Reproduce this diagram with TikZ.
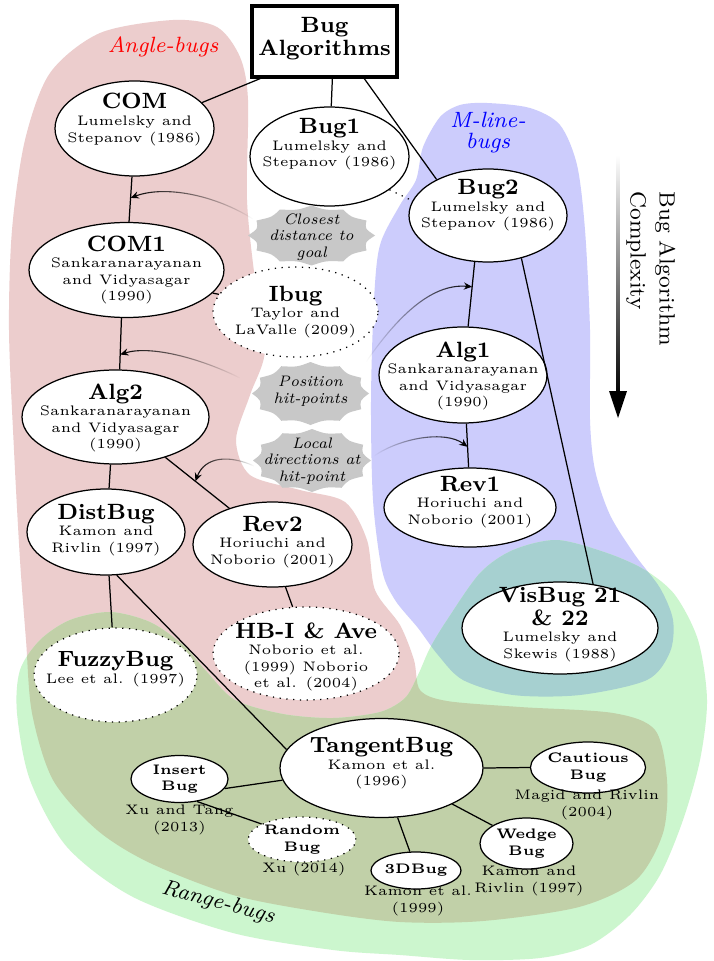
\documentclass[tikz,border=0pt]{standalone}
\usetikzlibrary{shapes.geometric,arrows.meta,calc,fadings}
\definecolor{pinkc}{RGB}{236,205,205}
\definecolor{bluec}{RGB}{204,204,252}
\definecolor{greenc}{RGB}{204,246,206}
\definecolor{olivec}{RGB}{193,208,168}
\definecolor{tealc}{RGB}{166,208,208}
\definecolor{sbc}{RGB}{200,200,200}
\newcommand{\bugttl}{\fontsize{8}{7.5}\selectfont\bfseries}
\tikzset{
 bugell/.style={ellipse, draw, fill=white, line width=0.45pt, inner sep=0pt},
 dotell/.style={bugell, dotted},
 bugtext/.style={align=center, font=\tiny, inner sep=0pt},
 smallell/.style={ellipse, draw, fill=white, line width=0.45pt, inner sep=0pt, align=center, font=\tiny\bfseries},
 smalldot/.style={smallell, dotted},
 conn/.style={line width=0.45pt},
 fadearrow/.style={line width=0.4pt, -{Stealth[length=3pt,width=2.6pt]}},
 sbtext/.style={align=center, font=\fontsize{5.5}{6}\selectfont\itshape, inner sep=0pt},
 reglabel/.style={font=\footnotesize\itshape, align=center, inner sep=0pt},
}
\newcommand{\bugnode}[8]{%
 \node[#1, minimum width=#5*0.362pt, minimum height=#6*0.362pt] (#2) at (#3,#4) {};
 \node[bugtext] (#2-t) at (#3,#7) {#8};}
\newcommand{\starb}[4]{%
 \fill[sbc] ({#1+#3},#2) \foreach \k in {1,...,12} { .. controls ({#1+0.87*#3*cos((\k-0.5)*30)},{#2+0.87*#4*sin((\k-0.5)*30)}) .. ({#1+#3*cos(\k*30)},{#2+#4*sin(\k*30)}) } -- cycle;}
\begin{document}
\begin{tikzpicture}[x=0.362pt,y=-0.362pt]
\useasboundingbox (0,0) rectangle (713,961);
\fill[white] (0,0) rectangle (713,961);
% regions
\fill[pinkc] plot[smooth cycle] coordinates {(173,20) (217,27) (240,57) (248,100) (247,200) (255,280) (265,350) (250,395) (236,440) (250,475) (300,490) (345,502) (367,540) (375,590) (400,625) (414,660) (420,690) (447,701) (520,707) (613,713) (655,730) (667,780) (663,833) (636,880) (579,907) (483,921) (400,922) (320,912) (233,895) (150,863) (97,830) (53,780) (32,713) (26,640) (20,560) (14,450) (9,330) (12,230) (25,140) (50,73) (100,33)};
\fill[bluec] plot[smooth cycle] coordinates {(487,103) (530,108) (560,125) (577,165) (585,230) (590,330) (590,420) (595,470) (610,515) (635,555) (660,588) (673,620) (670,652) (647,680) (580,695) (513,695) (463,680) (438,655) (418,628) (395,600) (382,570) (373,500) (371,400) (374,300) (380,245) (400,205) (416,180) (423,147) (440,117) (460,105)};
\fill[greenc] plot[smooth cycle] coordinates {(447,620) (480,573) (513,550) (557,540) (607,553) (645,570) (675,595) (698,640) (707,700) (700,760) (683,820) (660,875) (630,915) (590,945) (540,958) (470,960) (400,955) (333,950) (233,933) (133,897) (67,847) (30,780) (17,713) (20,670) (40,640) (70,620) (110,612) (150,622) (183,645) (207,672) (235,700) (283,714) (333,718) (380,712) (405,698) (418,675) (430,648)};
\begin{scope}
\clip plot[smooth cycle] coordinates {(447,620) (480,573) (513,550) (557,540) (607,553) (645,570) (675,595) (698,640) (707,700) (700,760) (683,820) (660,875) (630,915) (590,945) (540,958) (470,960) (400,955) (333,950) (233,933) (133,897) (67,847) (30,780) (17,713) (20,670) (40,640) (70,620) (110,612) (150,622) (183,645) (207,672) (235,700) (283,714) (333,718) (380,712) (405,698) (418,675) (430,648)};
\fill[olivec] plot[smooth cycle] coordinates {(173,20) (217,27) (240,57) (248,100) (247,200) (255,280) (265,350) (250,395) (236,440) (250,475) (300,490) (345,502) (367,540) (375,590) (400,625) (414,660) (420,690) (447,701) (520,707) (613,713) (655,730) (667,780) (663,833) (636,880) (579,907) (483,921) (400,922) (320,912) (233,895) (150,863) (97,830) (53,780) (32,713) (26,640) (20,560) (14,450) (9,330) (12,230) (25,140) (50,73) (100,33)};
\fill[tealc] plot[smooth cycle] coordinates {(487,103) (530,108) (560,125) (577,165) (585,230) (590,330) (590,420) (595,470) (610,515) (635,555) (660,588) (673,620) (670,652) (647,680) (580,695) (513,695) (463,680) (438,655) (418,628) (395,600) (382,570) (373,500) (371,400) (374,300) (380,245) (400,205) (416,180) (423,147) (440,117) (460,105)};
\end{scope}
% region labels
\node[reglabel, text=red] (anglelbl) at (163,47) {Angle-bugs};
\node[reglabel, text=blue, font=\fontsize{8}{7.6}\selectfont\itshape] (mlinelbl) at (488,133) {M-line-\\bugs};
\node[reglabel, rotate=-15] (rangelbl) at (218,903) {Range-bugs};
% root
\node[draw, line width=1.1pt, fill=white, minimum width=145*0.362pt, minimum height=71*0.362pt, inner sep=0pt] (root) at (324.5,41.5) {};
\node[align=center, font=\fontsize{8}{7.2}\selectfont\bfseries, inner sep=0pt] (root-t) at (324.5,39) {Bug\\Algorithms};
% nodes
\bugnode{bugell}{com}{134.5}{128.5}{159}{95}{119.5}{{\bugttl COM}\\Lumelsky and\\Stepanov (1986)}
\bugnode{bugell}{bug1}{329.5}{156.5}{159}{99}{144.5}{{\bugttl Bug1}\\Lumelsky and\\Stepanov (1986)}
\bugnode{bugell}{bug2}{488}{215.5}{158}{93}{205.5}{{\bugttl Bug2}\\Lumelsky and\\Stepanov (1986)}
\bugnode{bugell}{com1}{126.5}{270}{195}{95}{270}{{\bugttl COM1}\\Sankaranarayanan\\and Vidyasagar\\(1990)}
\bugnode{dotell}{ibug}{295.5}{312}{165}{90}{312}{{\bugttl Ibug}\\Taylor and\\LaValle (2009)}
\bugnode{bugell}{alg1}{463}{375}{168}{96}{376}{{\bugttl Alg1}\\Sankaranarayanan\\and Vidyasagar\\(1990)}
\bugnode{bugell}{alg2}{115.5}{417}{187}{94}{418}{{\bugttl Alg2}\\Sankaranarayanan\\and Vidyasagar\\(1990)}
\bugnode{bugell}{distbug}{106}{532}{158}{86}{530}{{\bugttl DistBug}\\Kamon and\\Rivlin (1997)}
\bugnode{bugell}{rev2}{272.5}{544.5}{159}{85}{542}{{\bugttl Rev2}\\Horiuchi and\\Noborio (2001)}
\bugnode{bugell}{rev1}{470}{507.5}{172}{79}{502}{{\bugttl Rev1}\\Horiuchi and\\Noborio (2001)}
\bugnode{dotell}{fuzzy}{115.5}{675}{163}{94}{669}{{\bugttl FuzzyBug}\\Lee et al. (1997)}
\bugnode{dotell}{hbi}{306}{653.5}{186}{93}{657}{{\bugttl HB-I \& Ave}\\Noborio et al.\\(1999) Noborio\\et al. (2004)}
\bugnode{bugell}{visbug}{560}{628}{196}{92}{624.5}{{\bugttl VisBug 21}\\{\bugttl \& 22}\\Lumelsky and\\Skewis (1988)}
\bugnode{bugell}{tangent}{381.5}{768}{203}{99}{763.5}{{\bugttl TangentBug}\\Kamon et al.\\(1996)}
% small nodes
\node[smallell, minimum width=97*0.362pt, minimum height=47*0.362pt] (insert) at (179.5,779) {Insert\\Bug};
\node[smalldot, minimum width=96*0.362pt, minimum height=45*0.362pt] (random) at (302,839.5) {Random\\Bug};
\node[smallell, minimum width=90*0.362pt, minimum height=37*0.362pt] (threed) at (416,870.5) {3DBug};
\node[smallell, minimum width=106*0.362pt, minimum height=51*0.362pt] (cautious) at (588,767.5) {Cautious\\Bug};
\node[smallell, minimum width=93*0.362pt, minimum height=51*0.362pt] (wedge) at (526.5,843.5) {Wedge\\Bug};
\node[bugtext] (insert-l) at (179.5,820) {Xu and Tang\\(2013)};
\node[bugtext] (random-l) at (304,869) {Xu (2014)};
\node[bugtext] (threed-l) at (418,901) {Kamon et al.\\(1999)};
\node[bugtext] (cautious-l) at (587,805) {Magid and Rivlin\\(2004)};
\node[bugtext] (wedge-l) at (529,881) {Kamon and\\Rivlin (1997)};
% connectors
\draw[conn] (root.210.3) -- (com.21.4);
\draw[conn] (root.282) -- (bug1.88);
\draw[conn] (root.317.3) -- (bug2.145.4);
\draw[conn, dotted] (bug1.331.8) -- (bug2.169.5);
\draw[conn] (com.267) -- (com1.87);
\draw[conn] (com1.345.7) -- (ibug.167);
\draw[conn] (com1.264.6) -- (alg2.85.7);
\draw[conn] (alg2.264.5) -- (distbug.86);
\draw[conn] (alg2.321.6) -- (rev2.140.6);
\draw[conn] (distbug.274) -- (fuzzy.94.3);
\draw[conn] (distbug.284.3) -- (tangent.169.2);
\draw[conn] (rev2.287.6) -- (hbi.106.8);
\draw[conn] (bug2.254.4) -- (alg1.84);
\draw[conn] (bug2.308.8) -- (visbug.53.1);
\draw[conn] (alg1.274.8) -- (rev1.92.9);
\draw[conn] (tangent.187.3) -- (insert.348.5);
\draw[conn] (insert.308.8) -- (random.159.4);
\draw[conn] (tangent.288.6) -- (threed.108);
\draw[conn] (tangent.0) -- (cautious.180);
\draw[conn] (tangent.333) -- (wedge.152.4);
% fading arrows
\coordinate (a1h) at ($(com.267)!0.47!(com1.87)$);
\coordinate (a1t) at (253,219);
\coordinate (a2h) at ($(com1.264.6)!0.71!(alg2.85.7)$);
\coordinate (a2t) at (240,378);
\coordinate (a3h) at ($(bug2.254.4)!0.385!(alg1.84)$);
\coordinate (a3t) at (366,362);
\coordinate (a4h) at ($(alg1.274.8)!0.53!(rev1.92.9)$);
\coordinate (a4t) at (374,456);
\coordinate (a5h) at ($(alg2.321.6)!0.47!(rev2.140.6)$);
\coordinate (a5t) at (254,466);
\draw[fadearrow, path fading=east] (a1t) .. controls (215,195) and (165,185) .. (a1h);
\draw[fadearrow, path fading=east] (a2t) .. controls (200,358) and (150,345) .. (a2h);
\draw[fadearrow, path fading=west] (a3t) .. controls (395,320) and (430,283) .. (a3h);
\draw[fadearrow, path fading=west] (a4t) .. controls (400,438) and (445,430) .. (a4h);
\draw[fadearrow, path fading=east] (a5t) .. controls (230,455) and (205,456) .. (a5h);
% starbursts
\starb{311.5}{235.5}{63.5}{30}
\starb{310.5}{393.5}{58.5}{31.5}
\starb{312}{460.5}{59}{31.5}
\node[sbtext] (sb1) at (311.5,237) {Closest\\distance to\\goal};
\node[sbtext] (sb2) at (310.5,391) {Position\\hit-points};
\node[sbtext] (sb3) at (312,461) {Local\\directions at\\hit-point};
% complexity arrow
\shade[top color=white, bottom color=black] (616.3,155) rectangle (619.7,396);
\fill[black] (609,391) -- (618,418) -- (627,391) -- cycle;
\node[rotate=-90, align=left, font=\fontsize{8}{10.5}\selectfont, inner sep=0pt, anchor=north west] (cplx) at (676,191) {Bug Algorithm\\Complexity};
\end{tikzpicture}
\end{document}
